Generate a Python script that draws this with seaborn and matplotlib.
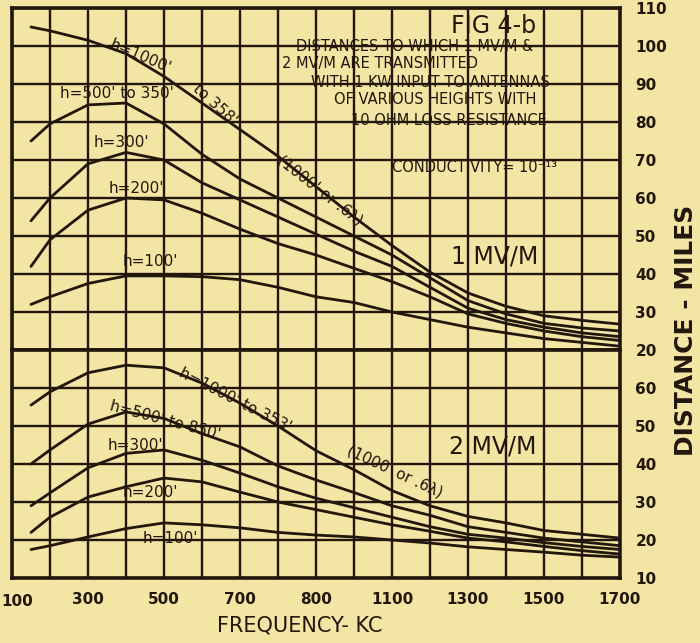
import pandas as pd
import matplotlib
matplotlib.use("Agg")
import matplotlib.pyplot as plt
import seaborn as sns

# Frequency (kc) sample points
freq = [150, 200, 300, 400, 500, 600, 700, 800, 900, 1000, 1100, 1200, 1300, 1400, 1500, 1600, 1700]
heights = ["1000'", "500'", "300'", "200'", "100'"]

# 1 MV/M distances (miles)
mv1_h1000 = [105, 104, 101.5, 98, 92, 85, 78, 71, 63, 55, 47.5, 40.5, 35, 31.5, 29, 27.8, 26.8]
mv1_h500 = [75, 79.5, 84.5, 85, 79.5, 71.5, 65, 60, 55, 50, 45, 39, 33, 29.5, 27, 25.8, 25]
mv1_h300 = [54, 60, 69, 72, 70, 64, 59.5, 55, 50.5, 46, 42, 36.5, 31, 28, 26, 24.5, 23.5]
mv1_h200 = [42, 49, 56.8, 60, 59.5, 56, 51.8, 48, 45, 41.5, 38, 34, 29.5, 27, 25, 23.5, 22.5]
mv1_h100 = [32, 34, 37.5, 39.5, 39.5, 39.3, 38.5, 36.5, 34, 32.5, 30, 28, 26, 24.5, 23, 22, 21]

# 2 MV/M distances (miles)
mv2_h1000 = [55.5, 59, 64, 66, 65.3, 61.3, 56, 50, 43.5, 38.5, 33, 29, 26.2, 24.5, 22.5, 21.5, 20.5]
mv2_h500 = [40, 43.7, 50.5, 53.7, 52, 48, 44.5, 39.5, 35.8, 32.5, 29, 26.5, 23.5, 22, 20.5, 19.5, 18.5]
mv2_h300 = [29, 32.4, 39, 42.8, 43.7, 41, 37.6, 34, 31, 28.5, 26, 23.5, 21.5, 20.5, 19.3, 18.3, 17.5]
mv2_h200 = [22, 26, 31.3, 34, 36.3, 35.3, 32.6, 30, 28, 26, 24, 22.3, 20.5, 19.5, 18.3, 17.2, 16.3]
mv2_h100 = [17.5, 18.5, 20.8, 23, 24.5, 24, 23.2, 22, 21.3, 20.8, 20, 19.2, 18.2, 17.5, 16.8, 16, 15.5]

xtick_labels = ["100", "300", "500", "700", "800", "1100", "1300", "1500", "1700"]

paper = "#f3e5a3"
ink = "#22170c"


def long_form(series):
    rows = []
    for h, vals in zip(heights, series):
        for f, v in zip(freq, vals):
            rows.append({"freq": f, "miles": v, "height": h})
    return pd.DataFrame(rows)


top = long_form([mv1_h1000, mv1_h500, mv1_h300, mv1_h200, mv1_h100])
bot = long_form([mv2_h1000, mv2_h500, mv2_h300, mv2_h200, mv2_h100])

sns.set_theme(style="white")
plt.rcParams["font.family"] = ["DejaVu Sans"]

fig = plt.figure(figsize=(7, 6.43), dpi=100, facecolor=paper)
ax_top = fig.add_axes([12 / 700, (643 - 350) / 643, 608 / 700, 342 / 643])
ax_bot = fig.add_axes([12 / 700, (643 - 578) / 643, 608 / 700, 228 / 643])

for ax, df, lo, hi in [(ax_top, top, 20, 110), (ax_bot, bot, 10, 70)]:
    sns.lineplot(data=df, x="freq", y="miles", units="height", estimator=None,
                 color=ink, lw=2.0, legend=False, ax=ax)
    ax.set_facecolor(paper)
    ax.set_xlim(100, 1700)
    ax.set_ylim(lo, hi)
    ax.set_xticks(range(100, 1701, 100))
    ax.set_yticks(range(lo, hi + 1, 10))
    ax.set_axisbelow(True)
    ax.grid(True, color=ink, lw=1.7)
    for s in ax.spines.values():
        s.set_color(ink)
        s.set_linewidth(2.6)
    ax.yaxis.tick_right()
    ax.tick_params(length=0, labelsize=11, colors=ink, pad=11)
    ax.set_xlabel("")
    ax.set_ylabel("")

ax_top.set_xticklabels([])
ax_top.set_yticklabels([str(v) for v in range(20, 111, 10)], fontweight="bold")
ax_bot.set_yticklabels([str(v) for v in range(10, 61, 10)] + [""], fontweight="bold")
# every other grid line carries a label; the first one sits at the page edge
xl = ["" for _ in range(17)]
for i, lab in enumerate(xtick_labels[1:], start=1):
    xl[2 * i] = lab
ax_bot.set_xticklabels(xl, fontweight="bold")
ax_bot.tick_params(axis="x", pad=10)
fig.text(17 / 700, 1 - 602 / 643, xtick_labels[0], fontsize=11, fontweight="bold",
         ha="center", va="center", color=ink)

# title block
ax_top.text(1366, 105.3, "FIG 4-b", fontsize=17, ha="center", va="center", color=ink)
block = [
    (1160, 99.8, "DISTANCES TO WHICH 1 MV/M &"),
    (1068, 95.4, "2 MV/M ARE TRANSMITTED"),
    (1200, 90.3, "WITH 1 KW INPUT TO ANTENNAS"),
    (1213, 85.8, "OF VARIOUS HEIGHTS WITH"),
    (1250, 80.3, "10 OHM LOSS RESISTANCE"),
    (1318, 67.9, "CONDUCTIVITY= 10⁻¹³"),
]
for x, y, s in block:
    ax_top.text(x, y, s, fontsize=10.5, ha="center", va="center", color=ink)

# curve labels, 1 MV/M
kw = dict(fontsize=11, ha="center", va="center", color=ink)
ax_top.text(1371, 44.5, "1 MV/M", fontsize=17, ha="center", va="center", color=ink)
ax_top.text(437, 97.3, "h=1000'", rotation=-23, **kw)
ax_top.text(634, 84.5, "to 358'", rotation=-42, **kw)
ax_top.text(910, 62.1, "(1000' or .6λ)", rotation=-38, **kw)
ax_top.text(376, 87.6, "h=500' to 350'", **kw)
ax_top.text(389, 74.5, "h=300'", **kw)
ax_top.text(426, 62.6, "h=200'", **kw)
ax_top.text(463, 43.2, "h=100'", **kw)

# curve labels, 2 MV/M
ax_bot.text(1366, 44.5, "2 MV/M", fontsize=17, ha="center", va="center", color=ink)
ax_bot.text(687, 56.8, "h=1000' to 353'", rotation=-27, **kw)
ax_bot.text(1108, 37.9, "(1000' or .6λ)", rotation=-25, **kw)
ax_bot.text(503, 51.6, "h=500' to 850'", rotation=-15, **kw)
ax_bot.text(424, 45, "h=300'", **kw)
ax_bot.text(463, 32.4, "h=200'", **kw)
ax_bot.text(516, 20.5, "h=100'", **kw)

fig.text(686 / 700, 1 - 330 / 643, "DISTANCE - MILES", rotation=90, fontsize=18,
         fontweight="bold", ha="center", va="center", color=ink)
fig.text(300 / 700, 1 - 626 / 643, "FREQUENCY- KC", fontsize=15,
         ha="center", va="center", color=ink)

fig.savefig("out.png", dpi=100, facecolor=paper)
